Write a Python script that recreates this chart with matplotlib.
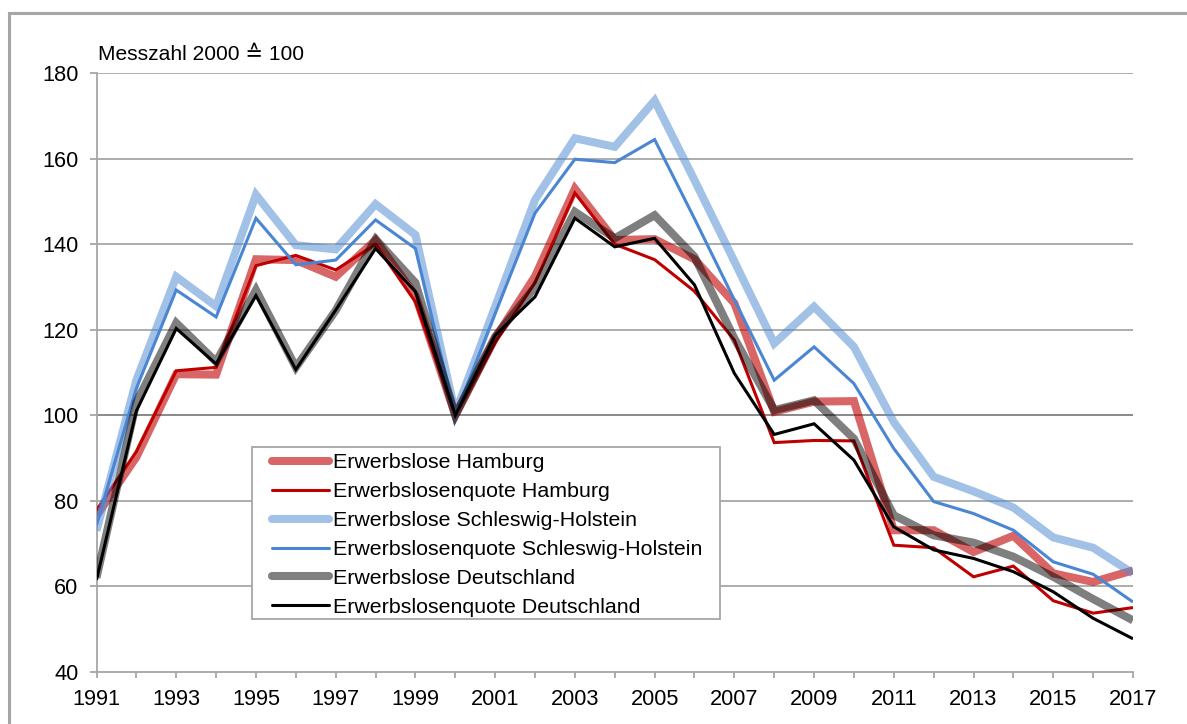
import numpy as np
import matplotlib
matplotlib.use("Agg")
import matplotlib.pyplot as plt
from matplotlib.lines import Line2D
from matplotlib.patches import Rectangle

plt.rcParams['font.family'] = ['Liberation Sans', 'DejaVu Sans']

years = list(range(1991, 2018))

erwerbslose_hh = [76.5, 90.2, 109.6, 109.5, 136.5, 136.3, 132.4, 141.0, 128.0, 100.0,
                  118.0, 132.5, 153.0, 141.0, 141.2, 136.5, 126.2, 100.8, 103.2, 103.3,
                  73.1, 73.1, 68.0, 71.8, 63.0, 61.0, 63.7]
quote_hh = [77.8, 91.5, 110.4, 111.2, 135.0, 137.4, 134.0, 140.0, 126.5, 100.0,
            117.0, 131.0, 152.0, 140.0, 136.4, 129.0, 117.6, 93.6, 94.1, 94.0,
            69.6, 69.0, 62.2, 64.7, 56.6, 53.7, 55.0]
erwerbslose_sh = [73.0, 108.2, 132.4, 125.5, 151.6, 139.8, 138.8, 149.4, 142.2, 100.5,
                  125.4, 150.4, 164.8, 162.8, 173.6, 155.0, 136.0, 116.8, 125.4, 116.0,
                  98.4, 85.6, 82.2, 78.4, 71.4, 69.0, 63.0]
quote_sh = [74.3, 106.3, 129.3, 123.0, 146.1, 135.2, 136.3, 145.7, 139.0, 100.0,
            123.8, 147.3, 159.9, 159.1, 164.5, 146.0, 127.0, 108.2, 116.0, 107.4,
            92.2, 79.8, 77.0, 73.1, 65.7, 62.8, 56.3]
erwerbslose_de = [62.0, 103.0, 121.6, 112.5, 129.3, 111.2, 124.5, 141.2, 131.0, 100.0,
                  118.4, 130.0, 147.6, 141.4, 146.8, 137.1, 118.0, 101.2, 103.5, 94.5,
                  76.6, 71.9, 70.2, 66.9, 62.2, 57.0, 52.0]
quote_de = [61.5, 101.0, 120.3, 112.0, 128.0, 110.7, 124.6, 139.0, 128.9, 100.0,
            118.7, 127.7, 146.1, 139.4, 141.4, 130.5, 109.8, 95.5, 98.0, 89.5,
            73.9, 68.5, 66.5, 63.4, 58.7, 52.5, 47.7]

labels = [
    "Erwerbslose Hamburg",
    "Erwerbslosenquote Hamburg",
    "Erwerbslose Schleswig-Holstein",
    "Erwerbslosenquote Schleswig-Holstein",
    "Erwerbslose Deutschland",
    "Erwerbslosenquote Deutschland",
]

W, H = 1187, 724
fig = plt.figure(figsize=(W / 100, H / 100), dpi=100)
ax = fig.add_axes([96.5 / W, 1 - 671.7 / H, (1133 - 96.5) / W, (671.7 - 73.3) / H])

thick = 5.8
thin = 2.2
series = [
    (erwerbslose_hh, dict(color="#C00000", alpha=0.6, lw=thick)),
    (quote_hh, dict(color="#C00000", lw=thin)),
    (erwerbslose_sh, dict(color="#558ED5", alpha=0.55, lw=thick)),
    (quote_sh, dict(color="#4A86D4", lw=thin)),
    (erwerbslose_de, dict(color="#000000", alpha=0.5, lw=thick)),
    (quote_de, dict(color="#000000", lw=thin)),
]
for (vals, style), lab in zip(series, labels):
    ax.plot(years, vals, label=lab, solid_joinstyle="miter", solid_capstyle="butt",
            zorder=3, **style)

ax.set_xlim(1991, 2017)
ax.set_ylim(40, 180)
ax.set_yticks(range(40, 181, 20))
ax.set_xticks(range(1991, 2018, 2))
ax.set_xticks(range(1991, 2018), minor=True)

for v in range(60, 181, 20):
    ax.axhline(v, color="#808080" if v == 100 else "#A6A6A6", lw=1.3, zorder=1)

for s in ["top", "right"]:
    ax.spines[s].set_visible(False)
for s in ["left", "bottom"]:
    ax.spines[s].set_color("#A6A6A6")
    ax.spines[s].set_linewidth(1.3)

ax.tick_params(axis="both", which="both", color="#A6A6A6", width=1.3, labelsize=15.7)
ax.tick_params(axis="x", which="major", length=4, pad=8.5)
ax.tick_params(axis="x", which="minor", length=4)
ax.tick_params(axis="y", length=5, pad=8)

fig.text(98 / W, 1 - 55 / H, "Messzahl 2000 \u2259 100", fontsize=15.1, va="center", ha="left")

# legend box drawn by hand, legend itself without frame
box = Rectangle((252 / W, 1 - 619 / H), (720 - 252) / W, (619 - 447) / H,
                transform=fig.transFigure, facecolor="white", edgecolor="#A6A6A6",
                lw=1.3, zorder=4, clip_on=False)
ax.add_patch(box)
leg = ax.legend(loc="upper left", bbox_to_anchor=(272 / W, 1 - 453.5 / H),
                bbox_transform=fig.transFigure, frameon=False, fontsize=15.4,
                handlelength=2.66, handletextpad=0.19, labelspacing=0.46,
                borderpad=0, borderaxespad=0)
leg.set_zorder(5)
for h in leg.get_lines():
    h.set_solid_capstyle("round")

# outer frame of the chart
fig.add_artist(Line2D([9 / W, 9 / W], [0, 1 - 13 / H], color="#A6A6A6", lw=2.2))
fig.add_artist(Line2D([9 / W, 1], [1 - 13 / H, 1 - 13 / H], color="#A6A6A6", lw=2.2))

fig.savefig("out.png", dpi=100)
